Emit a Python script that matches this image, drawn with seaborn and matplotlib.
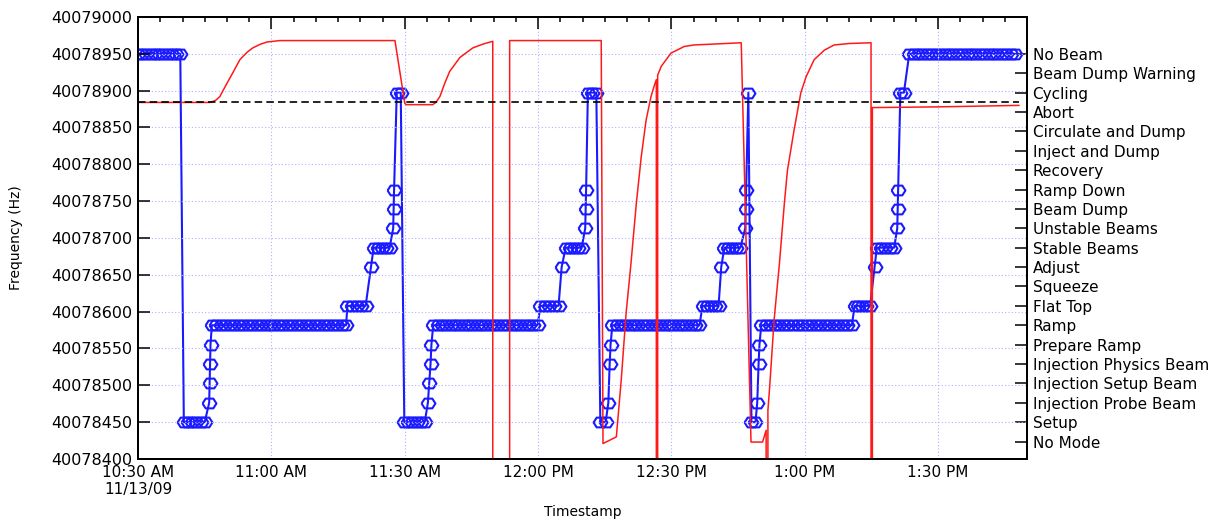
import numpy as np
import pandas as pd
import matplotlib
matplotlib.use("Agg")
import matplotlib.pyplot as plt
import matplotlib.dates as mdates
from matplotlib.ticker import FuncFormatter, FixedLocator, MultipleLocator
import seaborn as sns

# ─── DATA ────────────────────────────────────────────────────────────────────
START = pd.Timestamp("2009-11-13 10:30")
END = pd.Timestamp("2009-11-13 13:50")

# RF frequency (red trace), minutes after 10:30 / Hz  (0 = readout dropout)
red_min = [0.0, 16.2, 17.5, 18.4, 20.0, 21.3, 22.9, 24.5, 25.8, 27.5, 29.0,
           31.9, 57.8, 60.0, 60.3, 66.3, 67.0, 67.9, 69.0, 70.1, 72.4, 75.3,
           77.5, 79.8, 80.4, 83.5, 83.6, 104.2, 104.6, 107.6, 108.7, 109.8,
           110.9, 112.1, 113.2, 114.3, 115.4, 116.2, 116.6, 116.65, 116.85,
           116.9, 117.7, 119.9, 122.9, 125.1, 135.7, 137.9, 140.5, 141.3,
           141.45, 141.65, 141.7, 142.1, 143.1, 144.3, 145.4, 146.1, 147.6,
           149.1, 150.3, 152.1, 154.4, 156.6, 160.0, 164.9, 164.95, 165.15,
           165.2, 180.0, 198.2]
red_hz = [40078884, 40078884, 40078887, 40078892, 40078910, 40078924, 40078942,
          40078952, 40078958, 40078963, 40078966, 40078968, 40078968, 40078883,
          40078881, 40078881, 40078884, 40078892, 40078910, 40078926, 40078945,
          40078958, 40078963, 40078967, 0, 0, 40078968, 40078968, 40078421,
          40078430, 40078507, 40078598, 40078666, 40078747, 40078810, 40078860,
          40078892, 40078908, 40078915, 0, 0, 40078921, 40078933, 40078951,
          40078960, 40078962, 40078965, 40078423, 40078423, 40078439, 0, 0,
          40078466, 40078498, 40078589, 40078666, 40078747, 40078792, 40078847,
          40078897, 40078919, 40078942, 40078955, 40078962, 40078964, 40078965,
          0, 0, 40078877, 40078878, 40078880]

ref_hz = 40078884      # dashed reference line
ref_end_min = 198.2

# Beam mode (blue trace): runs of constant mode, minutes after 10:30
run_start = [0.0, 10.3, 16.0, 16.1, 16.2, 16.3, 16.6, 47.1, 52.4, 53.0, 57.4,
             57.5, 57.6, 58.2, 59.9, 65.2, 65.5, 65.8, 66.0, 66.4, 90.5, 95.3,
             96.2, 100.6, 100.7, 100.8, 101.2, 104.0, 105.8, 106.1, 106.3, 106.7,
             127.0, 131.2, 131.9, 136.6, 136.7, 136.8, 137.3, 138.0, 139.3,
             139.6, 139.8, 140.2, 161.2, 165.7, 166.2, 170.8, 170.9, 171.0,
             171.5, 173.5]
run_end = [9.5, 15.0, 16.0, 16.1, 16.2, 16.3, 46.8, 51.2, 52.4, 56.6, 57.4,
           57.5, 57.6, 59.1, 64.5, 65.2, 65.5, 65.8, 66.0, 89.9, 94.6, 95.3,
           99.8, 100.6, 100.7, 100.8, 103.1, 105.2, 105.8, 106.1, 106.3, 126.3,
           130.6, 131.2, 135.5, 136.6, 136.7, 136.8, 137.3, 138.9, 139.3,
           139.6, 139.8, 160.6, 164.7, 165.7, 170.1, 170.8, 170.9, 171.0,
           172.3, 197.3]
run_mode = [20, 1, 2, 3, 4, 5, 6, 7, 9, 10, 11, 12, 13, 18, 1, 2, 3, 4, 5, 6,
            7, 9, 10, 11, 12, 13, 18, 1, 2, 4, 5, 6, 7, 9, 10, 11, 12, 13, 18,
            1, 2, 4, 5, 6, 7, 9, 10, 11, 12, 13, 18, 20]
sample_step = 1.0   # minutes between logged mode samples

mode_names = ["No Mode", "Setup", "Injection Probe Beam", "Injection Setup Beam",
              "Injection Physics Beam", "Prepare Ramp", "Ramp", "Flat Top",
              "Squeeze", "Adjust", "Stable Beams", "Unstable Beams", "Beam Dump",
              "Ramp Down", "Recovery", "Inject and Dump", "Circulate and Dump",
              "Abort", "Cycling", "Beam Dump Warning", "No Beam"]

# ─── BUILD TABLES ────────────────────────────────────────────────────────────
red_df = pd.DataFrame({
    "time": START + pd.to_timedelta(red_min, unit="min"),
    "freq": np.array(red_hz, dtype=float),
})

b_min, b_mode = [], []
for s, e, m in zip(run_start, run_end, run_mode):
    n = int(round((e - s) / sample_step)) + 1
    pts = np.linspace(s, e, n) if n > 1 else [s]
    b_min.extend(pts)
    b_mode.extend([m] * len(pts))
blue_df = pd.DataFrame({
    "time": START + pd.to_timedelta(b_min, unit="min"),
    "mode": b_mode,
})

# ─── PLOT ────────────────────────────────────────────────────────────────────
sns.set_theme(style="white")
plt.rcParams.update({
    "font.family": ["DejaVu Sans"],
    "axes.edgecolor": "black", "text.color": "black",
    "xtick.color": "black", "ytick.color": "black", "axes.labelcolor": "black",
})

RED = "#ff1a1a"
BLUE = "#1a1aff"
GRID = "#b0b0ff"
# flattened hexagon, like the logger's symbol
HEX = [(-1.0, 0.0), (-0.55, 0.7), (0.55, 0.7), (1.0, 0.0), (0.55, -0.7),
       (-0.55, -0.7), (-1.0, 0.0)]

fig = plt.figure(figsize=(12.11, 5.21), dpi=100)
ax = fig.add_axes([0.1140, 0.1190, 0.7341, 0.8484])
ax2 = ax.twinx()
ax.set_zorder(ax2.get_zorder() + 1)
ax.patch.set_visible(False)

# beam mode on right axis (drawn underneath)
sns.lineplot(data=blue_df, x="time", y="mode", ax=ax2, color=BLUE, lw=1.5,
             marker=HEX, markersize=10, mfc="none", mec=BLUE, mew=1.5,
             estimator=None, sort=False)

# RF frequency on left axis
sns.lineplot(data=red_df, x="time", y="freq", ax=ax, color=RED, lw=1.1,
             estimator=None, sort=False, zorder=2)
ax.hlines(ref_hz, START, START + pd.Timedelta(minutes=ref_end_min),
          colors="black", linestyles=(0, (4.5, 2.5)), lw=1.2, zorder=3)

ax.set_xlim(START, END)
ax.set_ylim(40078400, 40079000)
ax2.set_ylim(-0.9, 21.9)

# x axis: dates
def fmt_time(x, pos):
    d = mdates.num2date(x)
    s = d.strftime("%I:%M %p").lstrip("0")
    if d.hour == 10 and d.minute == 30:
        s += "\n" + d.strftime("%m/%d/%y")
    return s

ax.xaxis.set_major_locator(mdates.MinuteLocator(byminute=[0, 30]))
ax.xaxis.set_minor_locator(mdates.MinuteLocator(byminute=range(0, 60, 5)))
ax.xaxis.set_major_formatter(FuncFormatter(fmt_time))

ax.yaxis.set_major_locator(MultipleLocator(50))
ax.yaxis.set_major_formatter(FuncFormatter(lambda v, p: f"{v:.0f}"))

ax2.yaxis.set_major_locator(FixedLocator(range(len(mode_names))))
ax2.set_yticklabels(mode_names)
ax2.set_ylabel("")

ax.grid(True, which="major", color=GRID, ls=(0, (1, 2)), lw=0.8)
ax.set_axisbelow(True)

ax.tick_params(axis="x", which="major", direction="in", length=8.5, width=1.1,
               top=True, labelsize=11, pad=4)
ax.tick_params(axis="x", which="minor", direction="in", length=3.6, width=1.1,
               top=True)
ax.tick_params(axis="y", which="major", direction="in", length=8.5, width=1.1,
               right=False, labelsize=11.5, pad=4)
ax2.tick_params(axis="y", direction="in", length=8.5, width=1.1,
                labelsize=11, pad=4)

for a in (ax, ax2):
    for sp in a.spines.values():
        sp.set_linewidth(1.4)
        sp.set_color("black")

ax.set_xlabel("Timestamp", fontsize=10)
ax.xaxis.set_label_coords(0.5, -0.104)
ax.set_ylabel("Frequency (Hz)", fontsize=10)
ax.yaxis.set_label_coords(-0.129, 0.5)

fig.savefig("out.png", dpi=100)
plt.close(fig)
